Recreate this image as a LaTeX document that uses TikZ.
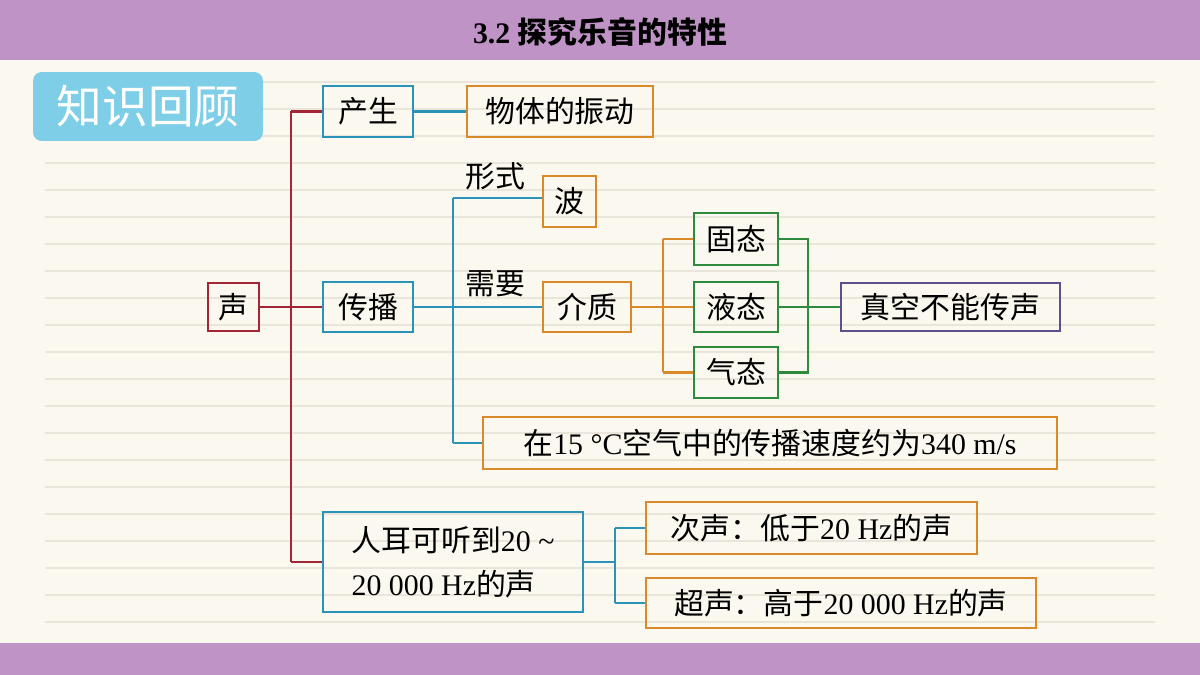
\documentclass[tikz,border=0pt]{standalone}
\usepackage{fontspec}
\setmainfont{Liberation Serif}
\newfontfamily\cjk{Noto Sans CJK SC}
\newfontfamily\cjkb{Noto Sans CJK SC Bold}
\definecolor{bg}{HTML}{FBF8EF}
\definecolor{bar}{HTML}{BF93C6}
\definecolor{rl}{HTML}{A32634}
\definecolor{bl}{HTML}{2A93B8}
\definecolor{org}{HTML}{D9892A}
\definecolor{grn}{HTML}{2E8B3E}
\definecolor{pur}{HTML}{5B4F8C}
\definecolor{kb}{HTML}{7ECEE8}
\definecolor{rule}{HTML}{E9E5DB}
\tikzset{
  bx/.style={draw, line width=1.2pt, inner sep=2pt, font=\fontsize{17}{21}\selectfont, text=black},
  lnk/.style={line width=1.3pt}
}
\begin{document}
\begin{tikzpicture}[x=0.02cm,y=-0.02cm]
\fill[bg] (0,0) rectangle (1200,675);
\useasboundingbox (0,0) rectangle (1200,675);
\foreach \y in {82,109,136,163,190,217,244,271,298,325,352,379,406,433,460,487,514,541,568,595,622}
  \draw[rule, line width=0.6pt] (45,\y) -- (1155,\y);
\fill[bar] (0,0) rectangle (1200,60);
\fill[bar] (0,643) rectangle (1200,675);
\node (title) at (600,32) {\fontsize{17}{20}\selectfont\bfseries 3.2 {\cjkb 探究乐音的特性}};
\node[fill=kb, rounded corners=5pt, minimum width=4.6cm, minimum height=1.38cm, text=white, font=\fontsize{26}{30}\selectfont\cjk] (kr) at (148,106.5) {知识回顾};

\node[bx, draw=rl, minimum width=1.02cm, minimum height=0.96cm] (s) at (233.5,307) {\cjk 声};
\node[bx, draw=bl, minimum width=1.8cm, minimum height=1.02cm] (cs) at (368,111.5) {\cjk 产生};
\node[bx, draw=org, minimum width=3.72cm, minimum height=1.02cm] (wt) at (560,111.5) {\cjk 物体的振动};
\node[bx, draw=bl, minimum width=1.8cm, minimum height=1.0cm] (cb) at (368,307) {\cjk 传播};
\node[bx, draw=org, minimum width=1.06cm, minimum height=1.02cm] (bo) at (569.5,201.5) {\cjk 波};
\node[bx, draw=org, minimum width=1.76cm, minimum height=1.0cm] (jz) at (587,307) {\cjk 介质};
\node[bx, draw=grn, minimum width=1.68cm, minimum height=1.04cm] (gt) at (736,239) {\cjk 固态};
\node[bx, draw=grn, minimum width=1.68cm, minimum height=1.0cm] (yt) at (736,307) {\cjk 液态};
\node[bx, draw=grn, minimum width=1.68cm, minimum height=1.02cm] (qt) at (736,372.5) {\cjk 气态};
\node[bx, draw=pur, minimum width=4.38cm, minimum height=0.96cm] (zk) at (950.5,307) {\cjk 真空不能传声};
\node[bx, draw=org, minimum width=11.48cm, minimum height=1.04cm] (sd) at (770,443) {{\cjk 在}15 °C{\cjk 空气中的传播速度约为}340 m/s};
\node[bx, draw=bl, minimum width=5.2cm, minimum height=2.0cm, align=left] (re) at (453,562) {{\cjk 人耳可听到}20 \textasciitilde\\[4pt]20 000 Hz{\cjk 的声}};
\node[bx, draw=org, minimum width=6.62cm, minimum height=1.04cm] (cis) at (811.5,528) {{\cjk 次声：低于}20 Hz{\cjk 的声}};
\node[bx, draw=org, minimum width=7.8cm, minimum height=1.0cm] (chs) at (841,603) {{\cjk 超声：高于}20 000 Hz{\cjk 的声}};

\node[font=\fontsize{17}{20}\selectfont\cjk] (xs) at (495,176) {形式};
\node[font=\fontsize{17}{20}\selectfont\cjk] (xy) at (495,284) {需要};

\coordinate (r) at (291,307);
\draw[lnk, rl] (s.east) -- (r);
\draw[lnk, rl] (cs.west -| r) -- (re.west -| r);
\draw[lnk, rl] (cs.west -| r) -- (cs.west);
\draw[lnk, rl] (r) -- (cb.west);
\draw[lnk, rl] (re.west -| r) -- (re.west);
\draw[lnk, bl] (cs.east) -- (wt.west);
\coordinate (b) at (453,307);
\draw[lnk, bl] (cb.east) -- (b);
\draw[lnk, bl] (453,198) -- (sd.west -| b);
\draw[lnk, bl] (453,198) -- (bo.west |- 0,198);
\draw[lnk, bl] (b) -- (jz.west);
\draw[lnk, bl] (sd.west -| b) -- (sd.west);
\coordinate (o) at (663,307);
\draw[lnk, org] (jz.east) -- (o);
\draw[lnk, org] (gt.west -| o) -- (qt.west -| o);
\draw[lnk, org] (gt.west -| o) -- (gt.west);
\draw[lnk, org] (o) -- (yt.west);
\draw[lnk, org] (qt.west -| o) -- (qt.west);
\coordinate (g) at (808,307);
\draw[lnk, grn] (gt.east) -- (gt.east -| g) -- (qt.east -| g) -- (qt.east);
\draw[lnk, grn] (yt.east) -- (g) -- (zk.west);
\coordinate (e) at (615,562);
\draw[lnk, bl] (re.east |- e) -- (e);
\draw[lnk, bl] (cis.west -| e) -- (chs.west -| e);
\draw[lnk, bl] (cis.west -| e) -- (cis.west);
\draw[lnk, bl] (chs.west -| e) -- (chs.west);
\end{tikzpicture}
\end{document}
